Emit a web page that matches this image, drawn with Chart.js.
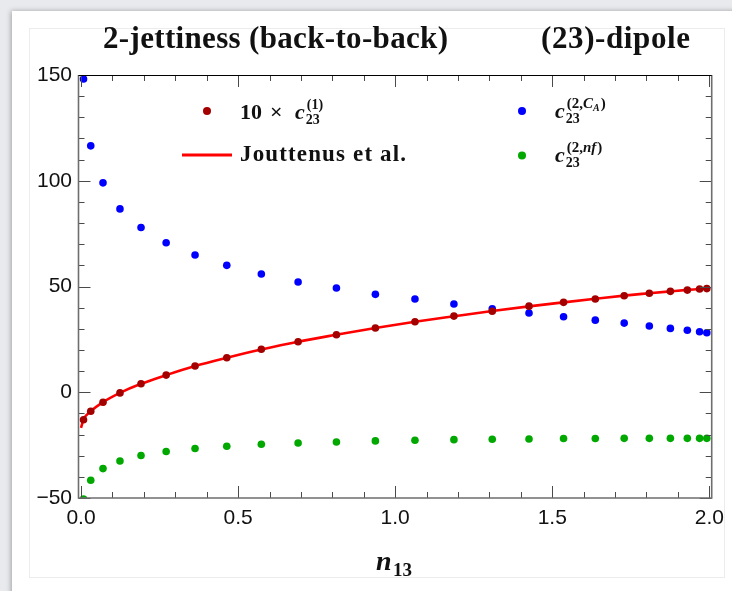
<!DOCTYPE html>
<html lang="en">
<head>
  <meta charset="UTF-8">
  <title>2-jettiness (back-to-back) (23)-dipole</title>
  <script src="https://cdn.jsdelivr.net/npm/chart.js"></script>
  <style>
    body {
      margin: 0;
      background-color: #e9eaed;
      width: 732px;
      height: 591px;
      overflow: hidden;
      position: relative;
    }

    .card {
      position: absolute;
      left: 12px;
      top: 11px;
      width: 760px;
      height: 620px;
      background-color: #fff;
      box-shadow: -1px 0 5px rgba(0, 0, 0, 0.3);
    }

    .inner {
      position: absolute;
      left: 29px;
      top: 28px;
      width: 694px;
      height: 548px;
      border: 1px solid #ececec;
    }

    #chart {
      position: absolute;
      left: 0;
      top: 0;
    }
  </style>
</head>

<body>
  <div class="card"></div>
  <div class="inner"></div>
  <canvas id="chart" width="732" height="591"></canvas>

  <script>
    // n13 sample points
    const n13 = [0.008, 0.031, 0.070, 0.124, 0.191, 0.271, 0.363, 0.464, 0.574, 0.691, 0.813, 0.937,
      1.063, 1.187, 1.309, 1.426, 1.536, 1.637, 1.729, 1.809, 1.876, 1.930, 1.969, 1.992];

    // 10 x c23^(1)
    const c1 = [-13.0, -9.0, -4.7, -0.3, 4.0, 8.1, 12.4, 16.3, 20.3, 23.9, 27.2, 30.4,
      33.3, 36.0, 38.3, 40.7, 42.5, 44.1, 45.6, 46.8, 47.7, 48.3, 48.8, 49.0];

    // c23^(2,CA)
    const cCA = [148.1, 116.5, 99.0, 86.7, 77.9, 70.7, 64.9, 60.0, 55.9, 52.1, 49.3, 46.3,
      44.1, 41.7, 39.5, 37.5, 35.7, 34.1, 32.7, 31.3, 30.2, 29.3, 28.6, 28.1];

    // c23^(2,nf)
    const cNf = [-50.5, -41.6, -36.1, -32.5, -29.9, -28.0, -26.6, -25.5, -24.6, -24.0, -23.5, -23.0,
      -22.7, -22.4, -22.2, -22.1, -21.9, -21.9, -21.8, -21.8, -21.8, -21.8, -21.8, -21.8];

    // Jouttenus et al. curve
    const jouttX = [0, 0.008, 0.031, 0.070, 0.124, 0.191, 0.271, 0.363, 0.464, 0.574, 0.691, 0.813, 0.937,
      1.063, 1.187, 1.309, 1.426, 1.536, 1.637, 1.729, 1.809, 1.876, 1.930, 1.969, 2.0];
    const jouttY = [-16.8, -12.9, -9.0, -4.7, -0.3, 4.0, 8.1, 12.4, 16.3, 20.2, 23.9, 27.2, 30.4,
      33.3, 35.9, 38.4, 40.6, 42.5, 44.2, 45.7, 46.8, 47.7, 48.4, 48.8, 49.2];

    const xTicks = [0, 0.5, 1.0, 1.5, 2.0];
    const yTicks = [-50, 0, 50, 100, 150];

    const toPoints = (xs, ys) => xs.map((x, i) => ({ x: x, y: ys[i] }));

    const SERIF = '"Liberation Serif", "DejaVu Serif", serif';

    // text with letter spacing stretched to a target width
    function spaced(ctx, text, x, y, width) {
      ctx.letterSpacing = '0px';
      const w = ctx.measureText(text).width;
      const ls = width ? (width - w) / (text.length - 1) : 0;
      ctx.letterSpacing = ls + 'px';
      ctx.fillText(text, x, y);
      ctx.letterSpacing = '0px';
    }

    // c with sub 23 and a superscript drawer
    function cSymbol(ctx, x, y, supFn) {
      ctx.font = 'italic bold 22px ' + SERIF;
      ctx.fillText('c', x, y);
      const sx = x + ctx.measureText('c').width + 1;
      ctx.font = 'bold 14px ' + SERIF;
      ctx.fillText('23', sx, y + 5);
      supFn(sx, y - 10);
    }

    const framePlugin = {
      id: 'frame',
      afterDraw(chart) {
        const { ctx, chartArea: a, scales: { x, y } } = chart;
        ctx.save();

        // inward ticks on all four sides
        ctx.strokeStyle = '#4a4a4a';
        ctx.lineWidth = 1;
        ctx.beginPath();
        for (let i = 0; i <= 20; i++) {
          const px = Math.round(x.getPixelForValue(i / 10)) + 0.5;
          const len = i % 5 === 0 ? 12 : 6;
          ctx.moveTo(px, a.bottom); ctx.lineTo(px, a.bottom - len);
          ctx.moveTo(px, a.top); ctx.lineTo(px, a.top + len);
        }
        for (let v = -50; v <= 150; v += 10) {
          const py = Math.round(y.getPixelForValue(v)) + 0.5;
          const len = v % 50 === 0 ? 12 : 6;
          ctx.moveTo(a.left, py); ctx.lineTo(a.left + len, py);
          ctx.moveTo(a.right, py); ctx.lineTo(a.right - len, py);
        }
        ctx.stroke();

        // frame
        ctx.strokeStyle = '#6e6e6e';
        ctx.lineWidth = 1.6;
        ctx.beginPath();
        ctx.moveTo(a.left, a.top);
        ctx.lineTo(a.left, a.bottom);
        ctx.lineTo(a.right, a.bottom);
        ctx.lineTo(a.right, a.top);
        ctx.stroke();
        ctx.strokeStyle = '#000';
        ctx.lineWidth = 1;
        ctx.beginPath();
        ctx.moveTo(a.left, a.top + 0.5);
        ctx.lineTo(a.right, a.top + 0.5);
        ctx.stroke();

        // titles
        ctx.fillStyle = '#111';
        ctx.textBaseline = 'alphabetic';
        ctx.textAlign = 'left';
        ctx.font = 'bold 31px ' + SERIF;
        spaced(ctx, '2-jettiness (back-to-back)', 103, 48, 345);
        spaced(ctx, '(23)-dipole', 541, 48, 149);

        // axis title n13
        ctx.font = 'italic bold 28px ' + SERIF;
        ctx.fillText('n', 376, 570);
        ctx.font = 'bold 19px ' + SERIF;
        ctx.fillText('13', 393, 576);

        // legend
        ctx.fillStyle = '#a30000';
        ctx.beginPath(); ctx.arc(207, 111, 4, 0, Math.PI * 2); ctx.fill();
        ctx.fillStyle = '#0000ff';
        ctx.beginPath(); ctx.arc(522, 111, 4, 0, Math.PI * 2); ctx.fill();
        ctx.fillStyle = '#00a800';
        ctx.beginPath(); ctx.arc(522, 155.5, 4, 0, Math.PI * 2); ctx.fill();
        ctx.strokeStyle = '#ff0000';
        ctx.lineWidth = 3;
        ctx.beginPath(); ctx.moveTo(182, 155); ctx.lineTo(232, 155); ctx.stroke();

        ctx.fillStyle = '#111';
        ctx.font = 'bold 22px ' + SERIF;
        ctx.fillText('10', 240, 119);
        ctx.fillText('\u00d7', 270, 119);
        cSymbol(ctx, 295, 119, (sx, sy) => {
          ctx.font = 'bold 14px ' + SERIF;
          ctx.fillText('(1)', sx + 1, sy);
        });
        ctx.font = 'bold 23px ' + SERIF;
        spaced(ctx, 'Jouttenus et al.', 240, 161, 166);

        cSymbol(ctx, 555, 118, (sx, sy) => {
          ctx.font = 'bold 15px ' + SERIF;
          ctx.fillText('(2,', sx + 1, sy);
          let cx = sx + 1 + ctx.measureText('(2,').width;
          ctx.font = 'italic bold 15px ' + SERIF;
          ctx.fillText('C', cx, sy);
          cx += ctx.measureText('C').width;
          ctx.font = 'italic bold 10px ' + SERIF;
          ctx.fillText('A', cx, sy + 3);
          cx += ctx.measureText('A').width + 1;
          ctx.font = 'bold 15px ' + SERIF;
          ctx.fillText(')', cx, sy);
        });
        cSymbol(ctx, 555, 162, (sx, sy) => {
          ctx.font = 'bold 15px ' + SERIF;
          ctx.fillText('(2,', sx + 1, sy);
          let cx = sx + 1 + ctx.measureText('(2,').width;
          ctx.font = 'italic bold 15px ' + SERIF;
          ctx.fillText('nf', cx, sy);
          cx += ctx.measureText('nf').width + 1;
          ctx.font = 'bold 15px ' + SERIF;
          ctx.fillText(')', cx, sy);
        });

        ctx.restore();
      }
    };

    new Chart(document.getElementById('chart').getContext('2d'), {
      type: 'scatter',
      data: {
        datasets: [{
          label: '10 \u00d7 c23(1)',
          data: toPoints(n13, c1),
          backgroundColor: '#a30000',
          borderWidth: 0,
          pointRadius: 3.8,
          clip: 0,
          order: 0
        }, {
          label: 'Jouttenus et al.',
          data: toPoints(jouttX, jouttY),
          type: 'line',
          showLine: true,
          borderColor: '#ff0000',
          borderWidth: 2.6,
          pointRadius: 0,
          fill: false,
          cubicInterpolationMode: 'monotone',
          clip: 0,
          order: 1
        }, {
          label: 'c23(2,CA)',
          data: toPoints(n13, cCA),
          backgroundColor: '#0000ff',
          borderWidth: 0,
          pointRadius: 3.8,
          clip: 0,
          order: 2
        }, {
          label: 'c23(2,nf)',
          data: toPoints(n13, cNf),
          backgroundColor: '#00a800',
          borderWidth: 0,
          pointRadius: 3.8,
          clip: 0,
          order: 3
        }]
      },
      options: {
        responsive: false,
        animation: false,
        layout: {
          padding: { top: 75, right: 19.3, left: 0, bottom: 0 }
        },
        plugins: {
          legend: { display: false },
          tooltip: { enabled: false }
        },
        scales: {
          x: {
            type: 'linear',
            min: -0.008,
            max: 2.0076,
            grid: { display: false, drawTicks: false },
            border: { display: false },
            afterBuildTicks: (s) => { s.ticks = xTicks.map(v => ({ value: v })); },
            afterFit: (s) => { s.height = 93; },
            ticks: {
              padding: 8,
              color: '#111',
              font: { family: '"Liberation Sans", Arial, sans-serif', size: 21 },
              callback: (v) => Number(v).toFixed(1)
            }
          },
          y: {
            type: 'linear',
            min: -50,
            max: 150,
            grid: { display: false, drawTicks: false },
            border: { display: false },
            afterBuildTicks: (s) => { s.ticks = yTicks.map(v => ({ value: v })); },
            afterFit: (s) => { s.width = 78.5; },
            ticks: {
              padding: 6.5,
              color: '#111',
              font: { family: '"Liberation Sans", Arial, sans-serif', size: 21 },
              callback: (v) => String(v).replace('-', '\u2212')
            }
          }
        }
      },
      plugins: [framePlugin]
    });
  </script>
</body>

</html>
